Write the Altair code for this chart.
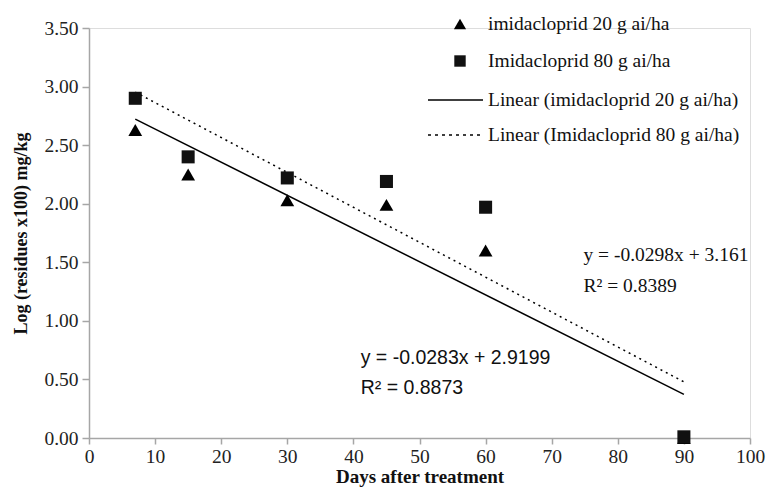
import altair as alt
import pandas as pd

days = [7, 15, 30, 45, 60, 90]
imi20 = [2.63, 2.25, 2.03, 1.99, 1.60, 0.00]
imi80 = [2.90, 2.40, 2.22, 2.19, 1.97, 0.01]

fit_names = ["Linear (imidacloprid 20 g ai/ha)", "Linear (Imidacloprid 80 g ai/ha)"]
fit_slopes = [-0.0283, -0.0298]
fit_intercepts = [2.9199, 3.161]
fit_range = [7, 90]

legend_labels = ["imidacloprid 20 g ai/ha", "Imidacloprid 80 g ai/ha",
                 "Linear (imidacloprid 20 g ai/ha)", "Linear (Imidacloprid 80 g ai/ha)"]

eq_text = ["y = -0.0283x + 2.9199", "R² = 0.8873", "y = -0.0298x + 3.161", "R² = 0.8389"]
eq_x = [41.1, 41.1, 74.8, 74.8]
eq_y = [0.68, 0.43, 1.56, 1.30]
eq_font = ["Liberation Sans", "Liberation Sans", "Liberation Serif", "Liberation Serif"]

serif = "Liberation Serif"
axis_col = "#a6a6a6"

pts20 = pd.DataFrame({"day": days, "val": imi20})
pts80 = pd.DataFrame({"day": days, "val": imi80})

fit_rows = []
for n, s, b in zip(fit_names, fit_slopes, fit_intercepts):
    for d in fit_range:
        fit_rows.append({"name": n, "day": d, "val": s * d + b})
fits = pd.DataFrame(fit_rows)

xs = alt.Scale(domain=[0, 100], nice=False, zero=False)
ys = alt.Scale(domain=[0, 3.5], nice=False)

xaxis = alt.Axis(values=list(range(0, 101, 10)), title="Days after treatment", grid=False,
                 domainColor=axis_col, tickColor=axis_col, tickSize=6, domainWidth=1.5, tickWidth=1.5,
                 labelFont=serif, labelFontSize=19.5, labelColor="#222", labelFlush=False,
                 titleFont=serif, titleFontSize=19, titleFontWeight="bold", titleColor="#111",
                 labelPadding=3, titlePadding=2)
yaxis = alt.Axis(values=[0, 0.5, 1, 1.5, 2, 2.5, 3, 3.5], format=".2f", title="Log (residues x100) mg/kg",
                 grid=False, domainColor=axis_col, tickColor=axis_col, tickSize=7, domainWidth=1.5, tickWidth=1.5,
                 labelFont=serif, labelFontSize=19.5, labelColor="#222", labelFlush=False,
                 titleFont=serif, titleFontSize=18, titleFontWeight="bold", titleColor="#111",
                 labelPadding=4, titlePadding=13)

l_tri = alt.Chart(pts20).mark_point(shape="triangle-up", filled=True, color="black", size=190, opacity=1).encode(
    x=alt.X("day:Q", scale=xs, axis=xaxis), y=alt.Y("val:Q", scale=ys, axis=yaxis))
l_sq = alt.Chart(pts80).mark_point(shape="square", filled=True, color="#111", size=170, opacity=1).encode(
    x=alt.X("day:Q", scale=xs), y=alt.Y("val:Q", scale=ys))

l_fit1 = alt.Chart(fits[fits["name"] == fit_names[0]]).mark_line(color="black", strokeWidth=1.5).encode(
    x=alt.X("day:Q", scale=xs), y=alt.Y("val:Q", scale=ys))
l_fit2 = alt.Chart(fits[fits["name"] == fit_names[1]]).mark_line(color="black", strokeWidth=1.5,
                                                                  strokeDash=[2, 4]).encode(
    x=alt.X("day:Q", scale=xs), y=alt.Y("val:Q", scale=ys))

eqdf = pd.DataFrame({"t": eq_text, "x": eq_x, "y": eq_y, "f": eq_font})
l_eq1 = alt.Chart(eqdf[eqdf["f"] == "Liberation Sans"]).mark_text(
    font="Liberation Sans", fontSize=19.5, align="left", baseline="middle", color="#111").encode(
    x=alt.X("x:Q", scale=xs), y=alt.Y("y:Q", scale=ys), text="t:N")
l_eq2 = alt.Chart(eqdf[eqdf["f"] == "Liberation Serif"]).mark_text(
    font=serif, fontSize=19.5, align="left", baseline="middle", color="#111").encode(
    x=alt.X("x:Q", scale=xs), y=alt.Y("y:Q", scale=ys), text="t:N")

# manual legend (positions in pixel space of plot area)
leg_y = [-4, 33, 72, 107]
leg_layers = []
for i, lab in enumerate(legend_labels):
    leg_layers.append(alt.Chart(pd.DataFrame({"t": [lab]})).mark_text(
        font=serif, fontSize=19.5, align="left", baseline="middle", color="#111").encode(
        x=alt.value(399), y=alt.value(leg_y[i]), text="t:N"))
leg_layers.append(alt.Chart(pd.DataFrame({"t": [legend_labels[0]]})).mark_point(
    shape="triangle-up", filled=True, color="black", size=150, opacity=1).encode(
    x=alt.value(371), y=alt.value(leg_y[0])))
leg_layers.append(alt.Chart(pd.DataFrame({"t": [legend_labels[1]]})).mark_point(
    shape="square", filled=True, color="#111", size=130, opacity=1).encode(
    x=alt.value(371), y=alt.value(leg_y[1])))
leg_layers.append(alt.Chart(pd.DataFrame({"t": [legend_labels[2]]})).mark_rule(
    color="black", strokeWidth=1.5).encode(
    x=alt.value(339), x2=alt.value(394), y=alt.value(leg_y[2])))
leg_layers.append(alt.Chart(pd.DataFrame({"t": [legend_labels[3]]})).mark_rule(
    color="black", strokeWidth=1.5, strokeDash=[3, 4]).encode(
    x=alt.value(339), x2=alt.value(394), y=alt.value(leg_y[3])))

chart = alt.layer(l_fit1, l_fit2, l_tri, l_sq, l_eq1, l_eq2, *leg_layers).properties(
    width=661, height=410,
    padding={"left": 81, "top": 20, "right": 17, "bottom": 49},
    autosize="none",
).configure_view(stroke=None).configure(background="white")

chart.save("out.html", embed_options={"renderer": "svg", "actions": False})
